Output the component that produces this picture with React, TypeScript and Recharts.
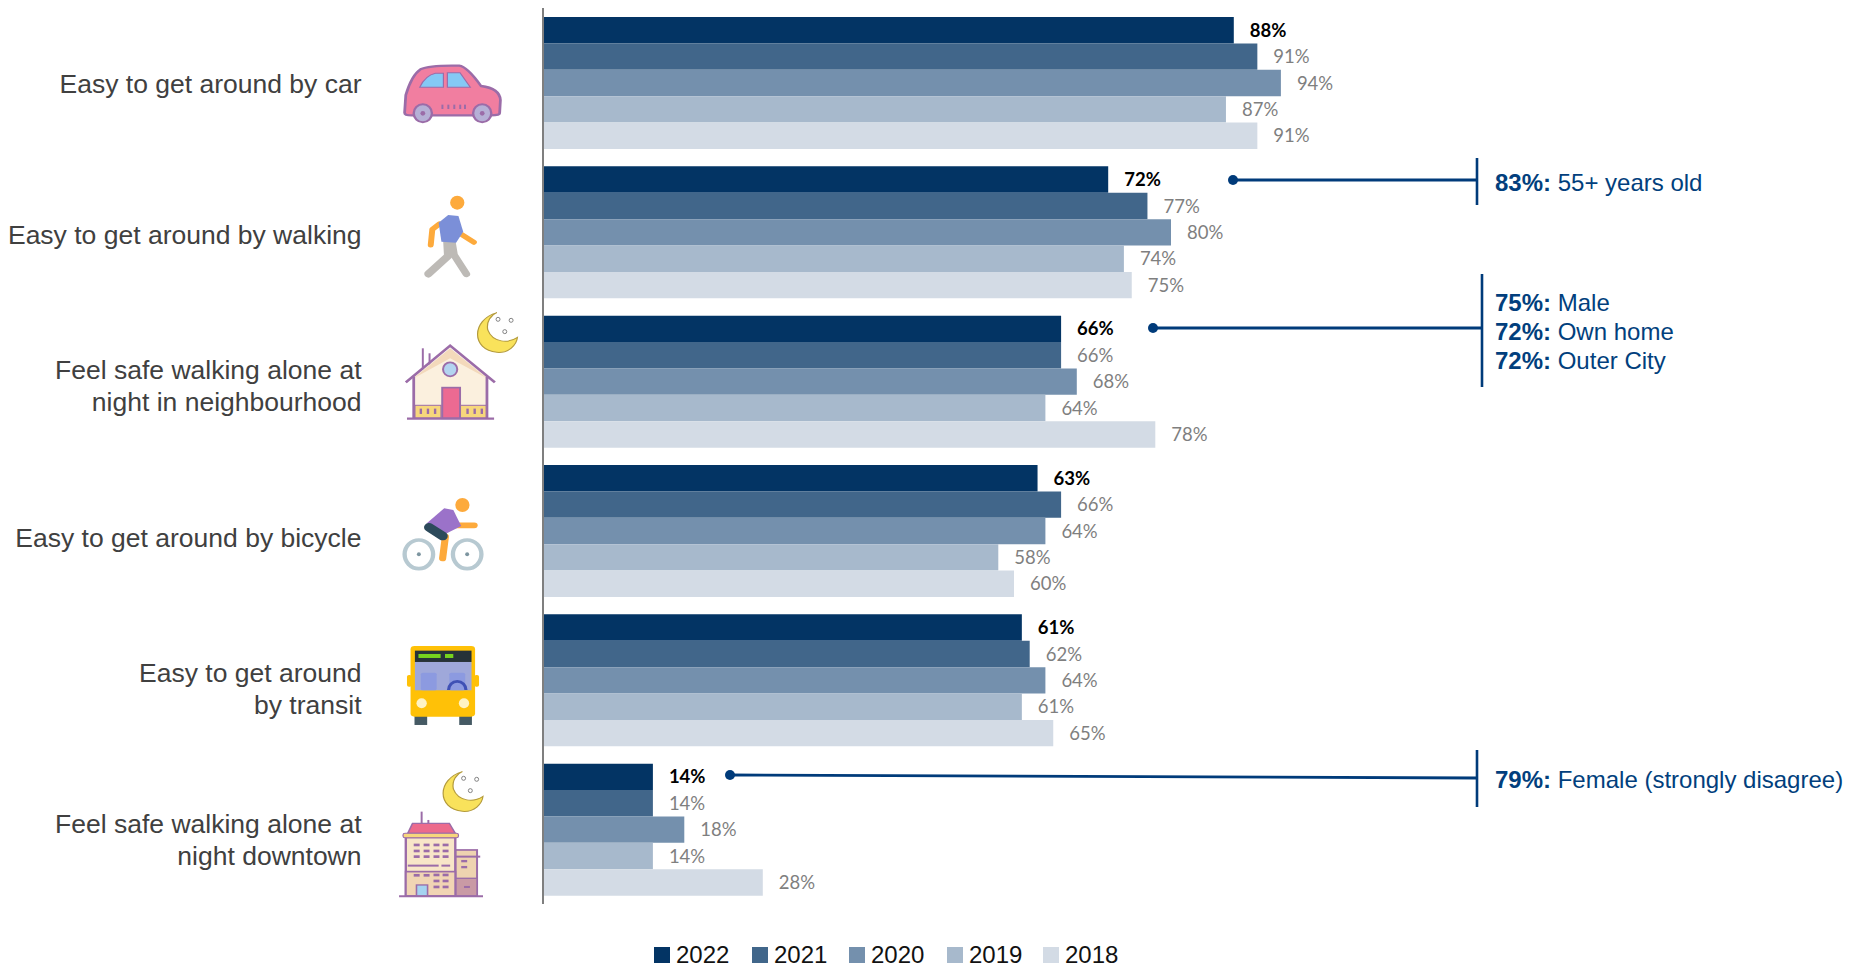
import { Bar, BarChart, LabelList, Legend, XAxis, YAxis } from "recharts";

const CATEGORIES = [
  "Easy to get around by car",
  "Easy to get around by walking",
  "Feel safe walking alone at\nnight in neighbourhood",
  "Easy to get around by bicycle",
  "Easy to get around\nby transit",
  "Feel safe walking alone at\nnight downtown",
];

const VALUES_2022 = [88, 72, 66, 63, 61, 14];
const VALUES_2021 = [91, 77, 66, 66, 62, 14];
const VALUES_2020 = [94, 80, 68, 64, 64, 18];
const VALUES_2019 = [87, 74, 64, 58, 61, 14];
const VALUES_2018 = [91, 75, 78, 60, 65, 28];

const SERIES = [
  { key: "2022", values: VALUES_2022, color: "#033464", labelColor: "#000000", weight: 700 },
  { key: "2021", values: VALUES_2021, color: "#41668a", labelColor: "#7f7f7f", weight: 400 },
  { key: "2020", values: VALUES_2020, color: "#7490ad", labelColor: "#7f7f7f", weight: 400 },
  { key: "2019", values: VALUES_2019, color: "#a7b9cc", labelColor: "#7f7f7f", weight: 400 },
  { key: "2018", values: VALUES_2018, color: "#d3dbe5", labelColor: "#7f7f7f", weight: 400 },
];

// small vertical nudges: the labels are not quite centred on their groups in the original
const LABEL_NUDGE = [1, 3, 5, 7, 9, 11];

const rows = CATEGORIES.map((label, i) => {
  const row: Record<string, string | number> = { label };
  SERIES.forEach((s) => {
    row[s.key] = s.values[i];
  });
  return row;
});

const ARIAL = "'Liberation Sans', Arial, sans-serif";
const NAVY = "#023f7d";
const LINE = "#003b7a";
const PURPLE = "#9b6ca8";

function CategoryTick({ y, payload }: any) {
  const lines = String(payload.value).split("\n");
  const nudge = LABEL_NUDGE[payload.index] ?? 0;
  const start = y + nudge - ((lines.length - 1) * 32) / 2;
  return (
    <text textAnchor="end" fontFamily={ARIAL} fontSize={26.5} fill="#404040">
      {lines.map((line, i) => (
        <tspan key={line} x={361.5} y={start + i * 32 + 9}>
          {line}
        </tspan>
      ))}
    </text>
  );
}

function LegendRow() {
  const xs = [654, 752, 849, 947, 1043];
  return (
    <div style={{ position: "relative", width: 1857, height: 20 }}>
      {SERIES.map((s, i) => (
        <div
          key={s.key}
          style={{
            position: "absolute",
            left: xs[i],
            top: 0,
            display: "flex",
            alignItems: "center",
            fontFamily: ARIAL,
            fontSize: 24,
            lineHeight: "20px",
            color: "#111",
          }}
        >
          <span style={{ width: 16, height: 16, background: s.color, marginRight: 6 }} />
          {s.key}
        </div>
      ))}
    </div>
  );
}

function Moon({ dx, dy }: { dx: number; dy: number }) {
  const stars = [
    [1258, 958],
    [1291, 961],
    [1275, 995],
  ];
  return (
    <g transform={`translate(${dx} ${dy})`}>
      <path
        d="M1255 938 C1190 960 1190 1050 1255 1057 C1285 1060 1305 1035 1307 1012 C1285 1030 1245 1030 1232 990 C1228 965 1240 945 1255 938 Z"
        fill="#f9e25b"
        stroke="#b39a3c"
        strokeWidth={3}
      />
      {stars.map(([x, y]) => (
        <ellipse key={x} cx={x} cy={y} rx={5} ry={6} fill="#fff" stroke="#777" strokeWidth={2.5} />
      ))}
    </g>
  );
}

// icons are drawn in the coordinates of the zoomed crops, then scaled down
function IconsTop() {
  return (
    <g transform="scale(0.3959 0.3333)">
      {/* car */}
      <path
        d="M1022 338 L1025 285 Q1040 225 1062 208 Q1085 195 1160 197 Q1180 200 1215 258 Q1262 265 1264 300 L1262 340 Q1262 346 1240 346 L1040 346 Q1022 346 1022 338 Z"
        fill="#f17ea0"
        stroke={PURPLE}
        strokeWidth={7}
      />
      <path d="M1060 262 Q1075 226 1100 220 L1120 220 L1120 262 Z" fill="#85c9f5" stroke={PURPLE} strokeWidth={3} />
      <path d="M1130 218 L1162 218 L1188 262 L1130 262 Z" fill="#85c9f5" stroke={PURPLE} strokeWidth={3} />
      <ellipse cx={1068} cy={340} rx={23} ry={27} fill="#b6b0d6" stroke={PURPLE} strokeWidth={6} />
      <ellipse cx={1218} cy={340} rx={23} ry={27} fill="#b6b0d6" stroke={PURPLE} strokeWidth={6} />
      <ellipse cx={1068} cy={340} rx={6} ry={7} fill={PURPLE} />
      <ellipse cx={1218} cy={340} rx={6} ry={7} fill={PURPLE} />
      {[1115, 1130, 1145, 1160, 1172].map((x) => (
        <rect key={x} x={x} y={314} width={5} height={13} fill={PURPLE} />
      ))}

      {/* walker */}
      <ellipse cx={1155} cy={608} rx={18} ry={21} fill="#fdaa3c" />
      <polyline points="1110,672 1092,688 1088,735" fill="none" stroke="#fdaa3c" strokeWidth={15} strokeLinecap="round" strokeLinejoin="round" />
      <polyline points="1165,703 1197,727" fill="none" stroke="#fdaa3c" strokeWidth={15} strokeLinecap="round" />
      <polyline points="1130,725 1132,768 1082,822" fill="none" stroke="#bdbab6" strokeWidth={21} strokeLinecap="round" strokeLinejoin="round" />
      <polyline points="1142,730 1147,765 1178,822" fill="none" stroke="#bdbab6" strokeWidth={19} strokeLinecap="round" strokeLinejoin="round" />
      <polygon points="1108,668 1132,645 1158,648 1170,695 1152,728 1115,725" fill="#7b8fd8" />

      {/* house */}
      <Moon dx={0} dy={0} />
      <line x1={1068} y1={1045} x2={1068} y2={1110} stroke={PURPLE} strokeWidth={5} />
      <line x1={1085} y1={1060} x2={1085} y2={1095} stroke={PURPLE} strokeWidth={5} />
      <polygon points="1045,1130 1137,1045 1230,1130 1230,1255 1045,1255" fill="#fbf0de" />
      <polygon points="1045,1135 1137,1045 1230,1135 1137,1075" fill="#f3d9bb" />
      <polyline points="1025,1147 1137,1037 1250,1147" fill="none" stroke={PURPLE} strokeWidth={7} />
      <polyline points="1045,1130 1045,1255" fill="none" stroke={PURPLE} strokeWidth={7} />
      <polyline points="1230,1130 1230,1255" fill="none" stroke={PURPLE} strokeWidth={7} />
      <ellipse cx={1137} cy={1108} rx={18} ry={21} fill="#b3d4f0" stroke={PURPLE} strokeWidth={5} />
      <rect x={1048} y={1216} width={66} height={38} fill="#f7d77c" stroke={PURPLE} strokeWidth={3} />
      <rect x={1162} y={1216} width={66} height={38} fill="#f7d77c" stroke={PURPLE} strokeWidth={3} />
      <rect x={1117} y={1163} width={45} height={92} fill="#ec6a92" stroke={PURPLE} strokeWidth={5} />
      {[1060, 1078, 1096, 1178, 1196, 1214].map((x) => (
        <rect key={x} x={x} y={1226} width={6} height={16} fill={PURPLE} />
      ))}
      <line x1={1028} y1={1256} x2={1248} y2={1256} stroke={PURPLE} strokeWidth={7} />
    </g>
  );
}

function IconsBottom() {
  const winRows = [1125, 1143, 1160];
  const winCols = [1045, 1070, 1095, 1118];
  const lowRows = [1215, 1233, 1251];
  return (
    <g transform="translate(0 470) scale(0.3959 0.3333)">
      {/* cyclist */}
      <ellipse cx={1058} cy={253} rx={36} ry={43} fill="none" stroke="#b7c9d1" strokeWidth={11} />
      <ellipse cx={1180} cy={253} rx={36} ry={43} fill="none" stroke="#b7c9d1" strokeWidth={11} />
      <ellipse cx={1058} cy={253} rx={5} ry={6} fill="#7d95a0" />
      <ellipse cx={1180} cy={253} rx={5} ry={6} fill="#7d95a0" />
      <ellipse cx={1168} cy={105} rx={18} ry={21} fill="#fdaa3c" />
      <line x1={1150} y1={166} x2={1198} y2={166} stroke="#fdaa3c" strokeWidth={17} strokeLinecap="round" />
      <polyline points="1125,200 1118,265" fill="none" stroke="#fdaa3c" strokeWidth={18} strokeLinecap="round" />
      <polygon points="1078,160 1122,115 1145,120 1165,168 1125,192" fill="#9b72c9" />
      <polyline points="1084,172 1118,198" fill="none" stroke="#2c4a5b" strokeWidth={26} strokeLinecap="round" />

      {/* bus */}
      <rect x={1028} y={615} width={12} height={35} rx={5} fill="#ffc107" />
      <rect x={1198} y={615} width={12} height={35} rx={5} fill="#ffc107" />
      <rect x={1047} y={735} width={32} height={30} fill="#455a64" />
      <rect x={1160} y={735} width={32} height={30} fill="#455a64" />
      <rect x={1037} y={528} width={163} height={212} rx={10} fill="#ffc107" />
      <rect x={1048} y={542} width={143} height={34} fill="#263238" />
      <rect x={1057} y={552} width={56} height={12} fill="#76d21e" />
      <rect x={1124} y={552} width={21} height={12} fill="#76d21e" />
      <rect x={1048} y={576} width={143} height={85} fill="#9fa8da" />
      <rect x={1063} y={608} width={40} height={53} rx={5} fill="#8c9ae0" />
      <rect x={1135} y={608} width={40} height={53} rx={5} fill="#8c9ae0" />
      <path d="M1133 660 A22 26 0 0 1 1177 660" fill="none" stroke="#3f51b5" strokeWidth={8} />
      <ellipse cx={1065} cy={700} rx={13} ry={15} fill="#fff3c4" />
      <ellipse cx={1172} cy={700} rx={13} ry={15} fill="#fff3c4" />

      {/* building */}
      <Moon dx={-87} dy={-33} />
      <line x1={1065} y1={1025} x2={1065} y2={1078} stroke={PURPLE} strokeWidth={5} />
      <line x1={1082} y1={1050} x2={1082} y2={1078} stroke={PURPLE} strokeWidth={5} />
      <rect x={1150} y={1140} width={55} height={138} fill="#eed3b0" stroke={PURPLE} strokeWidth={5} />
      <rect x={1150} y={1225} width={55} height={53} fill="#c99aa5" stroke={PURPLE} strokeWidth={4} />
      <line x1={1150} y1={1160} x2={1213} y2={1160} stroke={PURPLE} strokeWidth={6} />
      <rect x={1025} y={1102} width={125} height={176} fill="#f8e6c8" stroke={PURPLE} strokeWidth={6} />
      <rect x={1025} y={1205} width={125} height={73} fill="#f1d5b4" stroke={PURPLE} strokeWidth={5} />
      <polygon points="1030,1090 1042,1060 1135,1060 1150,1090" fill="#ec6a8c" stroke={PURPLE} strokeWidth={4} />
      <rect x={1018} y={1090} width={140} height={13} rx={5} fill="#f7d77c" stroke={PURPLE} strokeWidth={3} />
      {winRows.map((y) =>
        winCols.map((x) => <rect key={`${x}-${y}`} x={x} y={y - 4} width={15} height={8} fill={PURPLE} />)
      )}
      <rect x={1030} y={1184} width={78} height={6} fill={PURPLE} />
      <rect x={1115} y={1184} width={22} height={6} fill={PURPLE} />
      {lowRows.map((y) =>
        winCols.slice(2).map((x) => <rect key={`${x}-${y}`} x={x} y={y - 4} width={15} height={8} fill={PURPLE} />)
      )}
      <rect x={1045} y={1212} width={15} height={8} fill={PURPLE} />
      <rect x={1070} y={1212} width={15} height={8} fill={PURPLE} />
      <rect x={1052} y={1245} width={28} height={33} fill="#a5d3f0" stroke={PURPLE} strokeWidth={4} />
      {[1170, 1188].map((x) => (
        <rect key={x} x={1165} y={x} width={15} height={7} fill={PURPLE} />
      ))}
      <rect x={1172} y={1248} width={15} height={6} fill={PURPLE} />
      <line x1={1008} y1={1279} x2={1220} y2={1279} stroke={PURPLE} strokeWidth={6} />
    </g>
  );
}

const CALLOUTS = [
  {
    dot: [1233, 180],
    end: [1477, 180],
    bar: [1477, 158, 205],
    textX: 1495,
    baselines: [191],
    lines: [["83%:", "55+ years old"]],
  },
  {
    dot: [1153, 328],
    end: [1481, 328],
    bar: [1482, 274, 387],
    textX: 1495,
    baselines: [311, 340, 369],
    lines: [
      ["75%:", "Male"],
      ["72%:", "Own home"],
      ["72%:", "Outer City"],
    ],
  },
  {
    dot: [730, 775],
    end: [1477, 778],
    bar: [1477, 750, 807],
    textX: 1495,
    baselines: [788],
    lines: [["79%:", "Female (strongly disagree)"]],
  },
];

function Overlay() {
  return (
    <svg
      width={1857}
      height={968}
      style={{ position: "absolute", left: 0, top: 0, pointerEvents: "none" }}
    >
      <IconsTop />
      <IconsBottom />
      {CALLOUTS.map((c, i) => (
        <g key={i}>
          <circle cx={c.dot[0]} cy={c.dot[1]} r={5} fill={LINE} />
          <line x1={c.dot[0]} y1={c.dot[1]} x2={c.end[0]} y2={c.end[1]} stroke={LINE} strokeWidth={2.8} />
          <line x1={c.bar[0]} y1={c.bar[1]} x2={c.bar[0]} y2={c.bar[2]} stroke={LINE} strokeWidth={2.6} />
          {c.lines.map(([pct, what], j) => (
            <text key={what} x={c.textX} y={c.baselines[j]} fontFamily={ARIAL} fontSize={24} fill={NAVY}>
              <tspan fontWeight={700}>{pct}</tspan>
              <tspan> {what}</tspan>
            </text>
          ))}
        </g>
      ))}
    </svg>
  );
}

export default function App() {
  return (
    <div style={{ position: "absolute", left: 0, top: 0, width: 1857, height: 968, background: "#fff", overflow: "hidden" }}>
      <BarChart
        width={1857}
        height={968}
        data={rows}
        layout="vertical"
        barSize={26.4}
        barGap={0}
        margin={{ top: 8, right: 529, bottom: 64, left: 0 }}
      >
        <XAxis type="number" domain={[0, 100]} hide />
        <YAxis
          type="category"
          dataKey="label"
          width={543}
          interval={0}
          tick={CategoryTick}
          tickLine={false}
          axisLine={{ stroke: "#7f7f7f", strokeWidth: 2 }}
        />
        <Legend
          verticalAlign="middle"
          layout="horizontal"
          content={LegendRow}
          wrapperStyle={{ top: 945, left: 0, width: 1857 }}
        />
        {SERIES.map((s) => (
          <Bar key={s.key} dataKey={s.key} fill={s.color} isAnimationActive={false}>
            <LabelList
              dataKey={s.key}
              position="right"
              offset={16}
              formatter={(v: any) => `${v}%`}
              fill={s.labelColor}
              style={{ fontFamily: "Lato, sans-serif", fontSize: 18.5, fontWeight: s.weight, fill: s.labelColor }}
            />
          </Bar>
        ))}
      </BarChart>
      <Overlay />
    </div>
  );
}
